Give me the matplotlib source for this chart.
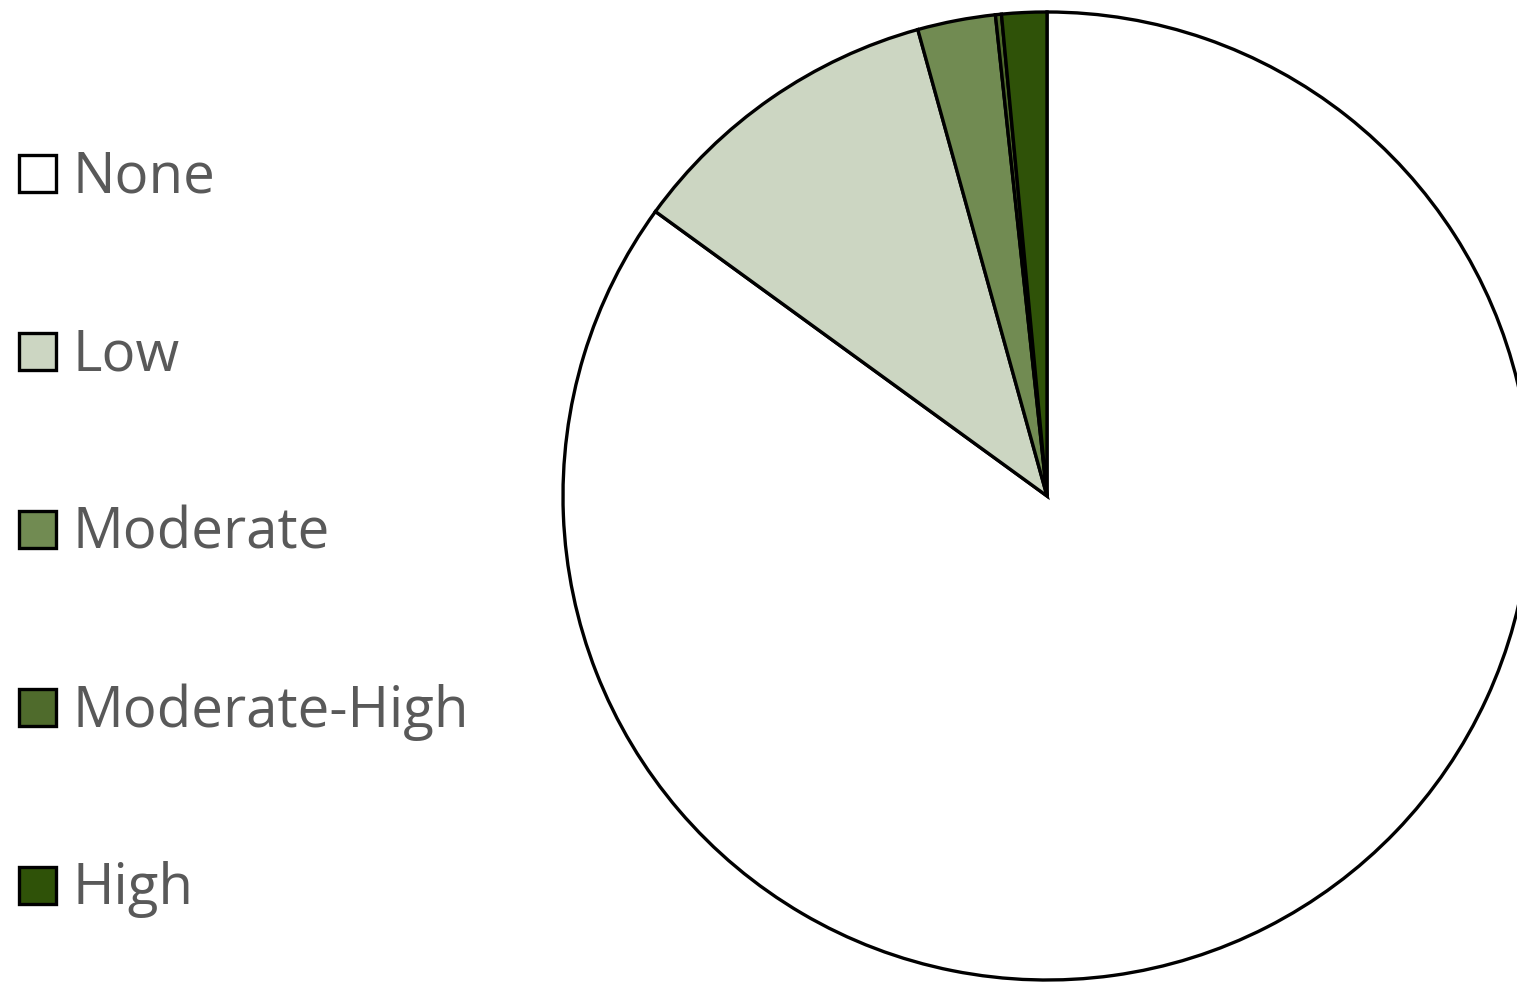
import numpy as np
import matplotlib.pyplot as plt
from matplotlib.patches import Rectangle

labels = ['None', 'Low', 'Moderate', 'Moderate-High', 'High']
shares = [85.0, 10.7, 2.6, 0.2, 1.5]
colors = ['#FFFFFF', '#CCD6C2', '#718B52', '#4F6B2C', '#2F5208']

W, H = 1517, 982
fig = plt.figure(figsize=(W/100, H/100), dpi=100)
ax = fig.add_axes([0, 0, 1, 1])

ax.pie(shares, colors=colors, startangle=90, counterclock=False,
       center=(1047, H-496), radius=484,
       wedgeprops=dict(edgecolor='black', linewidth=2.4))
ax.set_xlim(0, W)
ax.set_ylim(0, H)
ax.set_aspect('auto')
ax.axis('off')

# legend drawn by hand, one row per category
for i in range(len(labels)):
    yc = H - (174 + 178*i)
    ax.add_patch(Rectangle((19, yc-18), 37, 37, facecolor=colors[i],
                           edgecolor='black', linewidth=2.4))
    ax.text(73, yc-4, labels[i], fontsize=40.6, color='#595959',
            family='Open Sans', va='center', ha='left')

fig.savefig('out.png', dpi=100)
